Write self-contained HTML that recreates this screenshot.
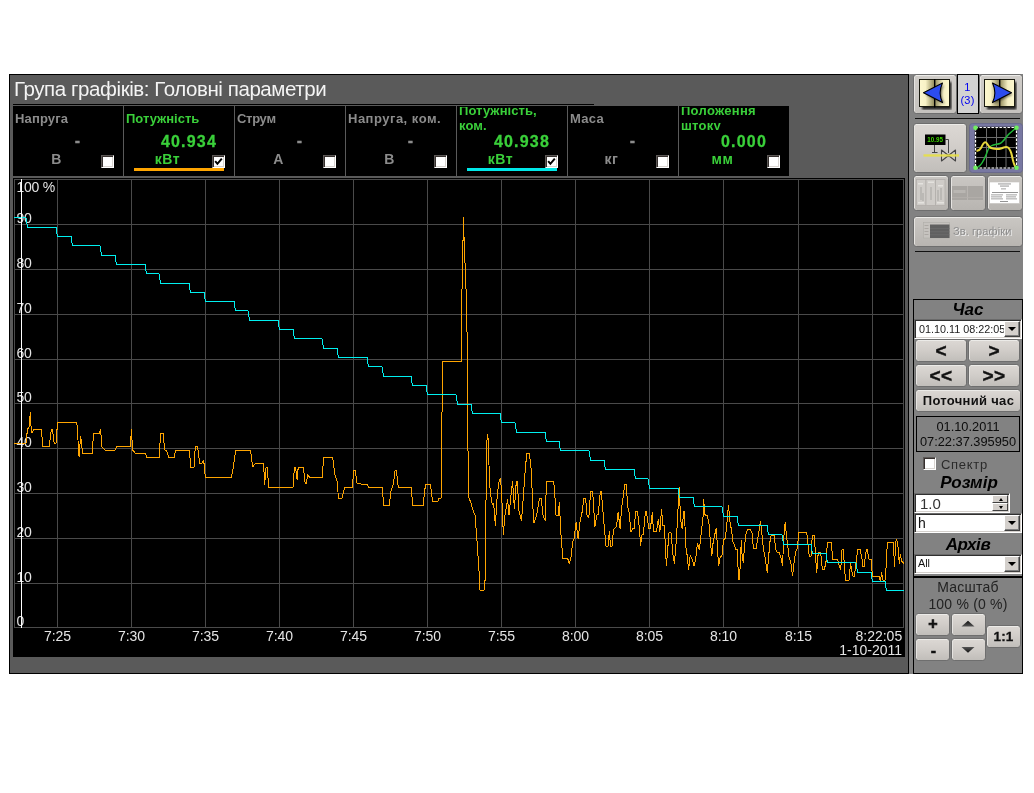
<!DOCTYPE html>
<html lang="uk"><head><meta charset="utf-8"><title>Група графіків: Головні параметри</title>
<style>
*{box-sizing:border-box;margin:0;padding:0}
html,body{width:1034px;height:793px;background:#fff;overflow:hidden}
body{position:relative;font-family:"Liberation Sans",sans-serif;}
div,i,b,span{display:block}
.abs,.frame *,.panel *{position:absolute}
.frame,.panel{will-change:transform}
.frame{position:absolute;left:9px;top:74px;width:900px;height:600px;background:#5a5a5a;border:1px solid #000}
.page{position:absolute;left:0;top:0}
.title{left:4px;top:2px;font-size:20.5px;line-height:24px;color:#f4f4f4;white-space:nowrap;letter-spacing:-0.42px}
.hl{left:3px;top:29px;width:581px;height:1px;background:#000}
.cellsbg{left:3px;top:31px;width:776px;height:70px;background:#000}
.cell{top:31px;width:110px;height:70px;background:#000;color:#8c8c8c;font-weight:bold;overflow:hidden}
.cell.act{color:#3ad03a}
.sep{top:30px;width:1px;height:71px;background:#5a5a5a}
.nm{left:2px;top:1px;width:106px;height:23px;overflow:hidden;font-size:13px;line-height:15px;letter-spacing:0}
.nm span{position:absolute;left:0;top:calc(50% - 0.75px);transform:translateY(-50%);white-space:nowrap}
.vl{left:24px;width:82px;top:27px;height:18px;font-size:16px;line-height:18px;text-align:center;letter-spacing:1.2px;-webkit-text-stroke:.3px currentColor;white-space:nowrap}
.un{left:13px;width:61px;top:45px;height:17px;font-size:14px;line-height:17px;text-align:center;letter-spacing:0.55px;white-space:nowrap}
.cb{left:88px;top:49px;width:13px;height:13px;background:#fff;border:1px solid;border-color:#5c5856 #fff #fff #5c5856;box-shadow:inset 1px 1px 0 #36302e,inset -1px -1px 0 #d8d4d0}
.cb svg{left:1px;top:1px}
.ln{left:10px;top:62px;width:90px;height:3px}
.chart{position:absolute;left:3px;top:103px}
.panel{position:absolute;left:909px;top:74px;width:114px;height:600px;background:#828282;border-top:1px solid #828282}
.btn{border:1px solid #6e6e6e;border-radius:3.5px;background:linear-gradient(#dcd8d4,#d2ceca 45%,#c1beba);box-shadow:inset 0 1px 0 #ecebe8,inset 1px 0 0 #e6e4e1;color:#111;text-align:center;font-weight:bold;white-space:nowrap;overflow:hidden}
.btn.dis{background:linear-gradient(#cac7c3,#b8b5b1)}
.hr{left:6px;width:105px;height:1px;background:#111}
.grp{border:1px solid #000}
.hd{font-size:17px;font-weight:bold;font-style:italic;color:#000;text-align:center;width:108px;left:0;white-space:nowrap}
.inp{background:#fff;border:1px solid;border-color:#6a6a6a #fff #fff #6a6a6a;box-shadow:inset 1px 1px 0 #303030,inset -1px -1px 0 #d4d0cc;overflow:hidden;color:#222;white-space:nowrap}
.inp span{left:1px;top:1px;bottom:1px;overflow:hidden}
.dd{right:1px;top:1px;bottom:1px;width:16px;background:#d4d0cc;border:1px solid;border-color:#fff #404040 #404040 #fff;box-shadow:inset -1px -1px 0 #808080}
.dd:after{content:"";position:absolute;left:3px;top:5px;border:4px solid transparent;border-top:4px solid #000;border-bottom:0}
.txt{color:#151515;white-space:nowrap;text-align:center}
</style></head><body>
<div class="frame">
<div class="title">Група графіків: Головні параметри</div>
<i class="hl"></i>
<div class="cell" style="left:3px"><div class="nm"><span style="letter-spacing:0.15px">Напруга</span></div><div class="vl" style="top:26px">-</div><div class="un">В</div><b class="cb"></b></div><i class="sep" style="left:113px"></i><div class="cell act" style="left:114px"><div class="nm"><span style="letter-spacing:0px">Потужність</span></div><div class="vl">40.934</div><div class="un">кВт</div><b class="cb"><svg width="9" height="9" viewBox="0 0 9 9"><path d="M1.2 4.2 L3.4 6.8 L7.8 1.6" fill="none" stroke="#000" stroke-width="2"/></svg></b><i class="ln" style="background:#ffa500"></i></div><i class="sep" style="left:224px"></i><div class="cell" style="left:225px"><div class="nm"><span style="letter-spacing:-0.3px">Струм</span></div><div class="vl" style="top:26px">-</div><div class="un">А</div><b class="cb"></b></div><i class="sep" style="left:335px"></i><div class="cell" style="left:336px"><div class="nm"><span style="letter-spacing:0.5px">Напруга, ком.</span></div><div class="vl" style="top:26px">-</div><div class="un">В</div><b class="cb"></b></div><i class="sep" style="left:446px"></i><div class="cell act" style="left:447px"><div class="nm"><span style="letter-spacing:0.08px">Потужність,<br>ком.</span></div><div class="vl">40.938</div><div class="un">кВт</div><b class="cb"><svg width="9" height="9" viewBox="0 0 9 9"><path d="M1.2 4.2 L3.4 6.8 L7.8 1.6" fill="none" stroke="#000" stroke-width="2"/></svg></b><i class="ln" style="background:#00e8e8"></i></div><i class="sep" style="left:557px"></i><div class="cell" style="left:558px"><div class="nm"><span style="letter-spacing:0.3px">Маса</span></div><div class="vl" style="top:26px">-</div><div class="un">кг</div><b class="cb"></b></div><i class="sep" style="left:668px"></i><div class="cell act" style="left:669px"><div class="nm"><span style="letter-spacing:0.28px">Положення<br>штоку</span></div><div class="vl">0.000</div><div class="un">мм</div><b class="cb"></b></div>
<svg class="chart" width="892" height="479" viewBox="0 0 892 479">
<rect width="892" height="479" fill="#000"/>
<g fill="#4a4a4a" shape-rendering="crispEdges"><rect x="1" y="1" width="1" height="449"/><rect x="44" y="1" width="1" height="449"/><rect x="118" y="1" width="1" height="449"/><rect x="192" y="1" width="1" height="449"/><rect x="266" y="1" width="1" height="449"/><rect x="340" y="1" width="1" height="449"/><rect x="414" y="1" width="1" height="449"/><rect x="488" y="1" width="1" height="449"/><rect x="562" y="1" width="1" height="449"/><rect x="636" y="1" width="1" height="449"/><rect x="710" y="1" width="1" height="449"/><rect x="785" y="1" width="1" height="449"/><rect x="859" y="1" width="1" height="449"/><rect x="890" y="1" width="1" height="449"/><rect x="1" y="1" width="890" height="1"/><rect x="1" y="46" width="890" height="1"/><rect x="1" y="91" width="890" height="1"/><rect x="1" y="136" width="890" height="1"/><rect x="1" y="181" width="890" height="1"/><rect x="1" y="225" width="890" height="1"/><rect x="1" y="270" width="890" height="1"/><rect x="1" y="315" width="890" height="1"/><rect x="1" y="360" width="890" height="1"/><rect x="1" y="405" width="890" height="1"/><rect x="1" y="449" width="890" height="1"/></g>
<g fill="#e4e4e4" font-family="Liberation Sans, sans-serif" font-size="14"><g letter-spacing="-0.25"><text x="3.4" y="14">100 %</text><text x="3.4" y="45">90</text><text x="3.4" y="90">80</text><text x="3.4" y="135">70</text><text x="3.4" y="180">60</text><text x="3.4" y="224">50</text><text x="3.4" y="269">40</text><text x="3.4" y="314">30</text><text x="3.4" y="359">20</text><text x="3.4" y="404">10</text><text x="3.4" y="448">0</text></g><text x="44.5" y="463" text-anchor="middle">7:25</text><text x="118.5" y="463" text-anchor="middle">7:30</text><text x="192.5" y="463" text-anchor="middle">7:35</text><text x="266.5" y="463" text-anchor="middle">7:40</text><text x="340.5" y="463" text-anchor="middle">7:45</text><text x="414.5" y="463" text-anchor="middle">7:50</text><text x="488.5" y="463" text-anchor="middle">7:55</text><text x="562.5" y="463" text-anchor="middle">8:00</text><text x="636.5" y="463" text-anchor="middle">8:05</text><text x="710.5" y="463" text-anchor="middle">8:10</text><text x="785.5" y="463" text-anchor="middle">8:15</text><text x="889.2" y="463" text-anchor="end">8:22:05</text><text x="889.0" y="477" text-anchor="end">1-10-2011</text></g>
<polyline fill="none" stroke="#ffa500" stroke-width="1" shape-rendering="crispEdges" stroke-linejoin="bevel" points="1.4,265.3 13.0,265.3 14.4,251.8 16.3,248.2 17.3,234.4 17.7,244.6 18.8,255.4 20.5,251.8 28.6,251.8 29.6,268.5 36.2,268.5 38.3,251.8 39.4,251.8 41.2,265.3 43.1,265.3 43.7,255.4 44.6,244.6 63.4,244.6 64.5,249.6 65.5,275.0 66.3,279.4 67.4,258.3 68.4,263.4 69.5,275.3 79.4,275.3 80.4,255.4 86.2,255.4 87.7,251.1 88.7,268.5 92.0,272.1 102.2,272.1 103.6,268.5 117.4,268.5 118.4,251.1 119.6,272.1 122.5,275.3 132.6,275.3 133.7,279.4 146.4,279.5 147.4,255.4 150.3,255.4 151.5,271.8 153.7,272.5 155.6,279.5 161.4,279.5 162.4,272.3 176.5,272.3 177.6,289.2 181.0,289.2 182.3,268.2 184.6,268.2 186.6,285.3 188.9,285.3 190.7,282.3 192.4,299.4 218.2,299.4 220.4,289.2 222.6,272.3 237.5,272.3 239.7,289.2 242.2,285.6 250.6,285.6 251.6,306.6 253.1,289.2 254.2,289.2 255.7,309.2 280.3,309.2 281.3,289.2 282.5,289.2 284.2,302.2 285.2,289.1 290.4,289.1 292.2,305.8 293.3,305.8 294.8,296.4 296.5,299.3 309.3,299.3 310.6,279.4 319.7,279.4 321.9,297.1 324.1,303.7 325.5,320.3 329.1,320.3 331.6,309.5 339.3,309.5 340.8,292.3 342.2,292.3 344.1,305.8 354.2,306.3 355.7,309.2 369.5,309.2 370.5,327.6 376.3,327.6 377.7,313.8 380.4,305.8 382.1,292.3 383.3,292.3 385.3,309.2 398.5,309.2 399.5,327.6 410.4,327.6 411.4,313.1 413.0,306.3 417.4,306.3 419.5,323.5 424.6,323.5 426.1,320.3 428.2,320.3 428.8,252.2 429.6,183.0 448.5,183.0 448.5,135.8 450.1,58.5 450.7,39.0 451.0,58.5 452.3,93.2 453.3,118.4 454.2,162.6 454.8,257.1 455.6,319.1 457.9,324.8 460.1,332.7 462.0,337.3 464.2,365.6 465.8,389.5 467.0,412.1 471.0,412.1 472.2,400.8 472.9,330.5 473.8,264.7 474.4,256.1 475.6,264.7 476.0,287.4 477.2,314.6 479.4,327.1 480.6,324.8 482.4,347.5 484.0,321.4 485.6,305.5 487.4,299.8 488.5,312.3 490.3,356.6 491.9,337.3 494.6,321.4 496.0,337.3 498.3,314.6 499.6,303.3 501.4,330.5 503.3,303.3 504.6,303.3 505.5,330.5 508.5,343.0 510.1,321.4 511.9,296.4 513.7,275.6 516.4,275.6 518.2,291.9 519.8,328.2 520.9,345.2 523.7,337.3 526.4,320.3 528.2,320.3 530.0,337.3 532.3,343.0 533.4,303.3 540.2,303.3 541.4,308.9 543.0,337.3 545.2,337.3 546.4,323.7 547.7,353.2 549.8,380.8 554.8,380.8 556.4,386.2 558.1,378.1 559.7,364.0 561.1,360.9 563.1,344.4 565.1,360.9 567.1,342.8 569.2,333.7 570.8,320.6 572.6,320.6 574.2,338.7 575.8,339.7 577.6,313.5 579.7,313.5 581.9,348.8 583.9,336.7 585.3,336.7 587.3,313.5 588.3,313.5 590.4,338.7 593.0,368.0 595.0,368.0 596.4,352.9 597.4,368.0 599.0,368.0 600.5,351.8 603.5,348.8 605.1,333.7 607.1,350.8 608.5,330.6 610.5,316.5 611.8,306.4 613.4,306.4 614.6,328.6 616.2,334.7 617.8,353.9 619.6,350.8 621.2,350.8 622.7,333.7 624.3,333.7 625.7,342.8 627.7,368.0 628.7,356.9 630.3,356.9 632.4,333.7 633.4,333.7 635.8,350.8 637.4,350.8 639.4,333.7 640.4,353.9 643.5,353.9 645.3,340.7 646.9,353.9 648.5,330.6 649.9,347.8 651.3,347.8 653.4,388.2 656.0,354.9 658.0,354.9 660.0,377.1 661.4,385.6 663.4,360.9 664.7,338.7 665.5,319.5 666.3,309.4 667.5,340.7 669.1,350.8 670.7,333.7 671.5,333.7 672.7,368.0 674.1,377.1 675.6,392.2 677.2,377.1 679.2,381.1 681.2,388.2 683.2,377.1 684.4,365.0 686.3,372.0 688.3,354.9 690.3,336.7 690.7,320.6 691.7,336.7 694.3,337.6 696.2,347.4 697.3,362.5 698.8,378.4 700.3,362.5 701.8,356.5 703.3,349.7 704.4,368.6 705.6,388.2 707.1,379.2 708.9,378.4 710.5,361.8 712.4,360.3 713.9,345.9 714.7,334.5 715.5,327.4 716.2,334.5 717.0,344.4 718.5,351.9 720.0,364.0 721.5,367.1 723.0,371.6 724.2,371.6 725.6,401.9 726.5,401.9 727.6,378.4 728.3,361.8 729.1,377.7 730.3,385.2 731.6,367.1 732.9,356.5 734.4,351.6 737.1,351.6 739.2,355.0 740.4,370.8 743.1,370.8 745.0,359.5 746.2,351.9 747.4,342.6 748.7,354.2 750.3,370.1 751.8,377.7 753.3,388.2 754.3,395.1 755.6,379.2 757.1,362.5 758.1,357.7 761.3,357.7 762.4,368.6 763.4,373.9 766.1,374.6 768.4,380.7 769.5,387.5 770.7,362.5 771.6,347.4 772.3,344.4 773.0,353.4 774.5,365.6 776.0,379.2 777.9,385.2 779.5,398.1 781.3,382.2 782.8,373.1 784.3,370.8 785.8,354.7 793.8,354.5 794.7,364.4 796.2,378.0 798.1,378.0 799.3,357.6 801.4,357.6 802.6,379.5 803.7,395.4 804.9,378.0 805.9,374.2 807.6,374.2 809.4,391.6 811.4,391.6 813.2,382.5 814.4,364.4 818.5,364.4 819.5,381.0 824.5,381.0 826.5,388.6 827.6,392.4 829.1,371.2 830.6,371.2 831.3,388.6 832.6,402.2 836.3,402.2 837.4,384.8 839.2,394.6 840.1,398.4 841.3,398.4 843.1,384.8 844.7,371.2 847.2,371.2 849.2,382.5 849.8,388.6 851.3,388.6 852.5,375.7 853.7,371.2 854.5,371.2 855.6,381.0 858.3,381.0 859.3,398.4 866.1,398.4 867.7,403.7 868.4,393.9 869.9,402.2 872.2,402.2 873.0,390.1 873.7,375.0 874.5,364.4 880.2,364.4 881.6,388.6 882.5,365.9 883.5,361.0 884.6,364.4 885.5,375.0 886.3,385.5 887.3,376.5 888.8,383.3 890.8,385.5"/>
<polyline fill="none" stroke="#00f0f0" stroke-width="1" shape-rendering="crispEdges" points="1.0,39.5 13.0,39.5 14.5,49.5 43.0,49.5 44.5,58.5 58.0,58.5 59.5,67.5 87.0,67.5 88.5,77.5 102.0,77.5 103.5,86.5 132.0,86.5 133.5,95.5 146.0,95.5 147.5,105.5 176.0,105.5 177.5,114.5 191.0,114.5 192.5,123.5 221.0,123.5 222.5,132.5 235.0,132.5 236.5,142.5 265.0,142.5 266.5,151.5 280.0,151.5 281.5,160.5 309.0,160.5 310.5,170.5 324.0,170.5 325.5,179.5 354.0,179.5 355.5,188.5 369.0,188.5 370.5,198.5 398.0,198.5 399.5,207.5 413.0,207.5 414.5,216.5 443.0,216.5 444.5,226.5 458.0,226.5 459.5,235.5 487.0,235.5 488.5,244.5 502.0,244.5 503.5,254.5 532.0,254.5 533.5,263.5 546.0,263.5 547.5,272.5 576.0,272.5 577.5,282.5 591.0,282.5 592.5,291.5 621.0,291.5 622.5,300.5 635.0,300.5 636.5,310.5 665.0,310.5 666.5,319.5 680.0,319.5 681.5,328.5 709.0,328.5 710.5,338.5 724.0,338.5 725.5,347.5 754.0,347.5 755.5,356.5 769.0,356.5 770.5,366.5 798.0,366.5 799.5,375.5 813.0,375.5 814.5,384.5 843.0,384.5 844.5,394.5 858.0,394.5 859.5,403.5 872.0,403.5 873.5,412.5 891.0,412.5"/>
<rect x="8" y="1" width="1" height="449" fill="#fff" shape-rendering="crispEdges"/>
</svg>
</div>
<div class="panel">
<div class="btn" style="left:4px;top:-1px;width:44px;height:40px;background:linear-gradient(#d0cdc9,#c5c2be)"><svg width="34" height="32" viewBox="0 0 34 32" style="left:4px;top:3px">
<defs><linearGradient id="pgL" x1="0" x2="1"><stop offset="0" stop-color="#fdf8cf"/><stop offset=".4" stop-color="#f8f2c6"/><stop offset="1" stop-color="#8f8858"/></linearGradient>
<linearGradient id="pgR" x1="0" x2="1"><stop offset="0" stop-color="#8f8858"/><stop offset=".55" stop-color="#f4eec2"/><stop offset="1" stop-color="#fdf8cf"/></linearGradient>
<filter id="sh" x="-20%" y="-20%" width="150%" height="150%"><feGaussianBlur stdDeviation="1.2"/></filter></defs>
<rect x="4" y="4" width="29.5" height="27.5" fill="#000" opacity=".85" filter="url(#sh)"/>
<rect x="1.5" y="1.5" width="15" height="27" fill="url(#pgL)" stroke="#1a1a10" stroke-width="1"/>
<rect x="16.5" y="1.5" width="15" height="27" fill="url(#pgR)" stroke="#1a1a10" stroke-width="1"/>
<rect x="16" y="1" width="1.4" height="28.5" fill="#000"/>
<path d="M6 15 L24.5 5.5 Q19.5 15 25 24.5 Z" fill="#000" opacity=".5" transform="translate(1.5,1.5)" filter="url(#sh)"/><path d="M5.5 14.8 L24.5 5 Q19.8 15 24.5 24.6 Z" fill="#2c4cf0" stroke="#000" stroke-width="1.1" stroke-linejoin="round"/>
</svg></div>
<div style="left:48px;top:-1px;width:22px;height:40px;background:#d2d2d2;border:1px solid #000;color:#0000f0;font-size:11px;line-height:13px;text-align:center;padding:6px 1px 0 0;letter-spacing:.2px">1<br>(3)</div>
<div class="btn" style="left:70px;top:-1px;width:44px;height:40px;background:linear-gradient(#d0cdc9,#c5c2be)"><svg width="34" height="32" viewBox="0 0 34 32" style="left:3px;top:3px">
<defs><linearGradient id="pgL2" x1="0" x2="1"><stop offset="0" stop-color="#fdf8cf"/><stop offset=".4" stop-color="#f8f2c6"/><stop offset="1" stop-color="#8f8858"/></linearGradient>
<linearGradient id="pgR2" x1="0" x2="1"><stop offset="0" stop-color="#8f8858"/><stop offset=".55" stop-color="#f4eec2"/><stop offset="1" stop-color="#fdf8cf"/></linearGradient>
<filter id="sh2" x="-20%" y="-20%" width="150%" height="150%"><feGaussianBlur stdDeviation="1.2"/></filter></defs>
<rect x="4" y="4" width="29.5" height="27.5" fill="#000" opacity=".85" filter="url(#sh2)"/>
<rect x="1.5" y="1.5" width="15" height="27" fill="url(#pgL2)" stroke="#1a1a10" stroke-width="1"/>
<rect x="16.5" y="1.5" width="15" height="27" fill="url(#pgR2)" stroke="#1a1a10" stroke-width="1"/>
<rect x="16" y="1" width="1.4" height="28.5" fill="#000"/>
<path d="M28 15 L9.5 5.5 Q14.5 15 9 24.5 Z" fill="#000" opacity=".5" transform="translate(1.5,1.5)" filter="url(#sh2)"/><path d="M28.5 14.8 L9.5 5 Q14.2 15 9.5 24.6 Z" fill="#2c4cf0" stroke="#000" stroke-width="1.1" stroke-linejoin="round"/>
</svg></div>
<i class="hr" style="top:43px"></i>
<div class="btn" style="left:4px;top:48px;width:54px;height:50px"><svg width="51" height="47" viewBox="0 0 51 47" style="left:0;top:0">
<path d="M31.5 15.5 H34.5 V29" fill="none" stroke="#444" stroke-width="1"/>
<path d="M20.5 20 V28.5 M18 28.5 H23.5" fill="none" stroke="#444" stroke-width="1"/>
<rect x="11" y="10.5" width="20.5" height="10.5" fill="#000"/>
<text x="13.3" y="18.4" font-family="Liberation Sans, sans-serif" font-size="7.6" fill="#3ed400" textLength="15.6" lengthAdjust="spacingAndGlyphs">10.95</text>
<path d="M27.5 26 L41.5 37 V26 L27.5 37 Z" fill="#d0ccc8" stroke="#444" stroke-width="1.1" stroke-linejoin="round"/>
<rect x="9.5" y="30.3" width="35.5" height="2.3" fill="#e6e048" opacity=".92"/>
</svg></div>
<div class="btn" style="left:60px;top:48px;width:54px;height:50px;background:#7878a2;border-color:#6a6a8c;box-shadow:none"><svg width="51" height="47" viewBox="0 0 51 47" style="left:0;top:0">
<rect x="5.5" y="3.5" width="41" height="40.5" fill="#000"/>
<g stroke="#6c6c6c" stroke-width="1"><path d="M16.5 4 V44 M26.5 4 V44 M36 4 V44 M6 13.5 H46 M6 23.5 H46 M6 33.5 H46"/></g>
<rect x="5.5" y="3.5" width="41" height="40.5" fill="none" stroke="#222" stroke-width="1.6"/>
<rect x="5.5" y="3.5" width="41" height="40.5" fill="none" stroke="#fff" stroke-width="1.2" stroke-dasharray="2.4 1.6"/>
<path d="M8 43 C12 41 14 36 16 31 S18 24 21 22 S27 20.5 30 19.5 S36 13 38 11 S43 6.5 46 4" fill="none" stroke="#22b83a" stroke-width="1.5"/>
<path d="M6.5 27 C9 26.5 10 26 11 24 S14 17 16 18.5 S18 23 21 24 S28 25.5 31 24.5 S36 22 38 23.5 S41 27 42 32 S44 42 46 43.5" fill="none" stroke="#e8d83c" stroke-width="2"/>
<g fill="#70ee60"><circle cx="5.5" cy="3.8" r="2.3"/><circle cx="46.5" cy="3.8" r="2.3"/><circle cx="5.5" cy="43.8" r="2.3"/><circle cx="46.5" cy="43.8" r="2.3"/></g>
</svg></div>
<div class="btn dis" style="left:4px;top:100px;width:36px;height:36px"><svg width="33" height="33" viewBox="0 0 33 33" style="left:0;top:0"><g fill="#cfccc8" stroke="#b2afab" stroke-width=".8"><rect x="2.5" y="3.5" width="9.5" height="26"/><rect x="12" y="3.5" width="9.5" height="26"/><rect x="21.5" y="3.5" width="9.5" height="26"/></g>
<g fill="#e4e2de"><rect x="4" y="7" width="5" height="1.5"/><rect x="14" y="5.5" width="6" height="1.5"/><rect x="24" y="9" width="5" height="1.5"/><rect x="4" y="26" width="6" height="1.5"/><rect x="23" y="26" width="7" height="1.5"/></g>
<g fill="#a8a5a1"><rect x="6.5" y="11" width="1" height="13"/><rect x="16.5" y="11" width="1" height="13"/><rect x="26.5" y="12" width="1" height="12"/><rect x="8.5" y="17" width="1" height="8"/><rect x="23.5" y="14" width="1" height="11"/></g></svg></div>
<div class="btn dis" style="left:41px;top:100px;width:36px;height:36px"><svg width="33" height="33" viewBox="0 0 33 33" style="left:0;top:0"><rect x="1" y="10" width="31" height="14" fill="#a9a6a2"/><rect x="16" y="10" width=".8" height="14" fill="#bdbab6"/><rect x="2.5" y="14" width="12" height="3" fill="#b9b6b2"/><rect x="1" y="21" width="31" height=".8" fill="#b4b1ad"/></svg></div>
<div class="btn dis" style="left:78px;top:100px;width:36px;height:36px"><svg width="33" height="33" viewBox="0 0 33 33" style="left:0;top:0"><rect x="1.5" y="6" width="30" height="21.5" fill="#fff" stroke="#c4c0bc" stroke-width=".6"/>
<g fill="#8a8a8a"><rect x="10" y="7.5" width="13" height=".9"/><rect x="12" y="9.6" width="9" height=".9"/><rect x="13" y="12.5" width="5" height=".8"/><rect x="4" y="16" width="26" height=".9"/><rect x="3" y="18.5" width="12" height=".8"/><rect x="18" y="18.5" width="11" height=".8"/><rect x="3" y="20.5" width="11" height=".8"/><rect x="18" y="20.5" width="10" height=".8"/><rect x="3" y="22.5" width="12" height=".8"/><rect x="18" y="22.5" width="11" height=".8"/><rect x="12" y="25" width="8" height=".9"/></g></svg></div>
<div class="btn dis" style="left:4px;top:141px;width:110px;height:31px"><svg width="27" height="17" viewBox="0 0 27 17" style="left:9px;top:5px"><rect x=".5" y=".5" width="26" height="15.5" fill="#c6c3bf" stroke="#b0ada9" stroke-width=".6"/><rect x="7" y="2.5" width="19.5" height="13.5" fill="#606060"/><g fill="#a5a29e"><rect x="1.5" y="3" width="4" height=".8"/><rect x="1.5" y="6" width="4" height=".8"/><rect x="1.5" y="9" width="4" height=".8"/><rect x="1.5" y="12" width="4" height=".8"/></g><g fill="#6e6e6e"><rect x="7" y="6" width="19.5" height=".7"/><rect x="7" y="9.5" width="19.5" height=".7"/><rect x="7" y="12.5" width="19.5" height=".7"/></g></svg><span style="left:39px;top:7px;font-size:11px;line-height:14px;font-weight:normal;color:#8e8e8e;text-shadow:1px 1px 0 #eee;letter-spacing:.1px">Зв. графіки</span></div>
<i class="hr" style="top:176px"></i>

<div class="grp" style="left:4px;top:224px;width:110px;height:278px">
 <div class="hd" style="top:0px;line-height:19px">Час</div>
</div>
<div class="inp" style="left:5px;top:244px;width:108px;height:20px;font-size:10.8px;line-height:16px"><span style="width:88px;padding-left:3px">01.10.11 08:22:05</span><i class="dd"></i></div>
<div class="btn" style="left:6px;top:264px;width:52px;height:23px;font-size:19px;line-height:21px;-webkit-text-stroke:.45px #111">&lt;</div>
<div class="btn" style="left:59px;top:264px;width:52px;height:23px;font-size:19px;line-height:21px;-webkit-text-stroke:.45px #111">&gt;</div>
<div class="btn" style="left:6px;top:289px;width:52px;height:23px;font-size:19px;line-height:21px;letter-spacing:.3px;-webkit-text-stroke:.45px #111">&lt;&lt;</div>
<div class="btn" style="left:59px;top:289px;width:52px;height:23px;font-size:19px;line-height:21px;letter-spacing:.3px;-webkit-text-stroke:.45px #111">&gt;&gt;</div>
<div class="btn" style="left:6px;top:314px;width:106px;height:23px;font-size:13px;line-height:21px;letter-spacing:.3px;padding-left:1px">Поточний час</div>
<div class="txt" style="left:7px;top:341px;width:104px;height:36px;border:1px solid #000;font-size:12.8px;line-height:15px;padding-top:2px;color:#0c0c0c">01.10.2011<br>07:22:37.395950</div>
<b class="cb" style="left:14px;top:382px"></b>
<div class="txt" style="left:32px;top:382px;font-size:13px;line-height:15px;color:#2a2a2a;letter-spacing:.7px">Спектр</div>
<div class="hd" style="left:6px;top:398px;line-height:20px">Розмір</div>
<div class="inp" style="left:5px;top:418px;width:96px;height:20px;font-size:15px;line-height:17px;color:#333"><span style="width:76px;padding-left:4px">1.0</span>
 <i style="right:1px;top:1px;width:16px;height:8px;background:#d4d0cc;border:1px solid;border-color:#fff #404040 #404040 #fff"></i>
 <i style="right:1px;top:9px;width:16px;height:8px;background:#d4d0cc;border:1px solid;border-color:#fff #404040 #404040 #fff"></i>
 <i style="right:6.5px;top:3.5px;border:2.5px solid transparent;border-bottom:3px solid #000;border-top:0"></i>
 <i style="right:6.5px;top:12px;border:2.5px solid transparent;border-top:3px solid #000;border-bottom:0"></i>
</div>
<div class="inp" style="left:5px;top:438px;width:108px;height:20px;font-size:14px;line-height:17px;color:#111"><span style="width:88px;padding-left:2px">h</span><i class="dd"></i></div>
<div class="hd" style="left:5px;top:459px;line-height:21px;letter-spacing:-.45px">Архів</div>
<div class="inp" style="left:5px;top:479px;width:108px;height:20px;font-size:10.8px;line-height:15px;color:#111"><span style="width:88px;padding-left:2px">All</span><i class="dd"></i></div>
<div class="grp" style="left:4px;top:502px;width:110px;height:97px"></div>
<div class="txt" style="left:5px;width:108px;top:504px;font-size:14px;line-height:17px;color:#222;letter-spacing:.2px">Масштаб<br>100 % (0 %)</div>
<div class="btn" style="left:6px;top:538px;width:35px;height:23px;font-size:16px;line-height:20px;-webkit-text-stroke:.7px #111;padding-left:1px">+</div>
<div class="btn" style="left:42px;top:538px;width:35px;height:23px"><svg width="14" height="8" viewBox="0 0 14 8" style="left:9px;top:6px"><defs><linearGradient id="tu" x1="0" y1="0" x2="0" y2="1"><stop offset="0" stop-color="#111"/><stop offset="1" stop-color="#555"/></linearGradient></defs><path d="M0.5 6.5 L7 0.8 L13.5 6.5 Z" fill="url(#tu)"/></svg></div>
<div class="btn" style="left:6px;top:563px;width:35px;height:23px;font-size:16px;line-height:23px;-webkit-text-stroke:.5px #111;padding-left:2px">-</div>
<div class="btn" style="left:42px;top:563px;width:35px;height:23px"><svg width="14" height="8" viewBox="0 0 14 8" style="left:9px;top:7px"><defs><linearGradient id="td" x1="0" y1="1" x2="0" y2="0"><stop offset="0" stop-color="#111"/><stop offset="1" stop-color="#555"/></linearGradient></defs><path d="M0.5 1 L7 6.8 L13.5 1 Z" fill="url(#td)"/></svg></div>
<div class="btn" style="left:77px;top:550px;width:35px;height:23px;font-size:13.5px;line-height:21px;letter-spacing:.1px;-webkit-text-stroke:.3px #111">1:1</div>
</div>
</body></html>
